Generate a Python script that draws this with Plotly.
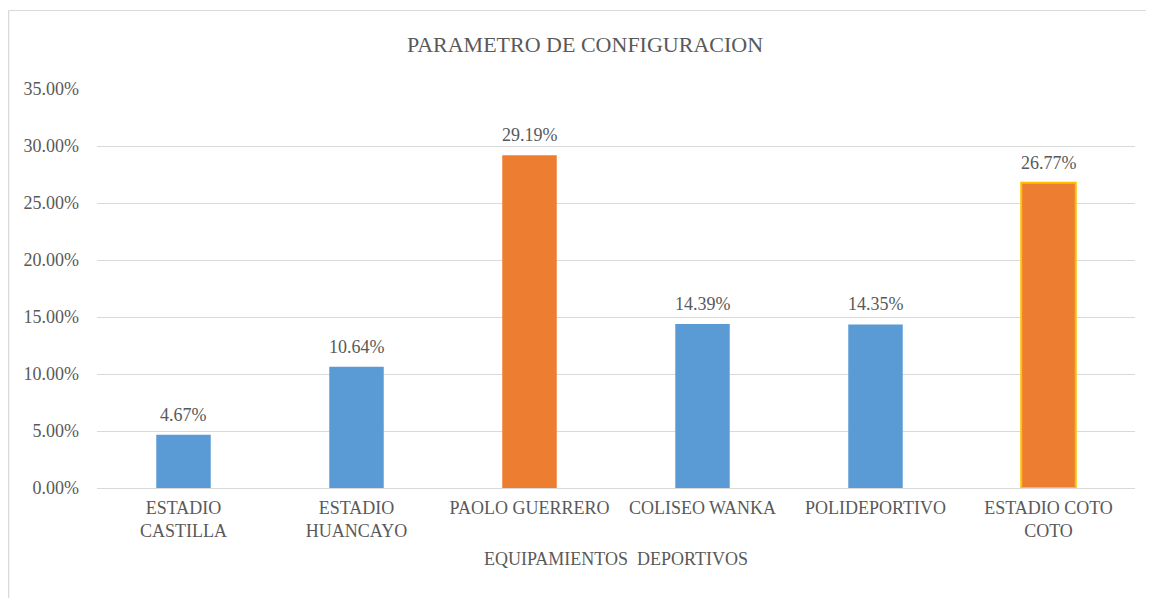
import plotly.graph_objects as go

categories = ["ESTADIO<br>CASTILLA", "ESTADIO<br>HUANCAYO", "PAOLO GUERRERO", "COLISEO WANKA", "POLIDEPORTIVO", "ESTADIO COTO<br>COTO"]
values = [0.0467, 0.1064, 0.2919, 0.1439, 0.1435, 0.2677]
labels = ["4.67%", "10.64%", "29.19%", "14.39%", "14.35%", "26.77%"]
bar_colors = ["#5B9BD5", "#5B9BD5", "#ED7D31", "#5B9BD5", "#5B9BD5", "#ED7D31"]
line_colors = ["#5B9BD5", "#5B9BD5", "#ED7D31", "#5B9BD5", "#5B9BD5", "#FFC000"]
line_widths = [0, 0, 0, 0, 0, 2]

FONT = "Liberation Serif"
TXT = "#595959"

fig = go.Figure(go.Bar(
    x=categories, y=values,
    marker=dict(color=bar_colors, line=dict(color=line_colors, width=line_widths)),
    hoverinfo="x+y",
))

for c, v, t in zip(categories, values, labels):
    fig.add_annotation(x=c, y=v, text=t, showarrow=False, yanchor="bottom",
                       yshift=8, font=dict(family=FONT, size=18, color=TXT))

# page has 8px body margin
W, H = 1146, 590
L, R, T, B = 89, 19, 81, 110
pw, ph = W - L - R, H - T - B

def px_x(p):
    return (p - L) / pw

def px_y(p):
    return (H - B - p) / ph

fig.update_layout(
    width=W, height=H,
    margin=dict(l=L, r=R, t=T, b=B),
    paper_bgcolor="white", plot_bgcolor="white",
    bargap=0.685,
    showlegend=False,
    title=dict(text="PARAMETRO DE CONFIGURACION", x=577 / W, xanchor="center",
               y=1 - 36 / H, yanchor="middle",
               font=dict(family=FONT, size=22, color=TXT)),
    font=dict(family=FONT, color=TXT),
    xaxis=dict(
        title=dict(text="EQUIPAMIENTOS  DEPORTIVOS", font=dict(family=FONT, size=18, color=TXT), standoff=12),
        tickfont=dict(family=FONT, size=18, color=TXT),
        showline=True, linecolor="#D9D9D9", linewidth=1,
        showgrid=False, ticks="", ticklabelstandoff=3,
    ),
    yaxis=dict(
        range=[0, 0.35], dtick=0.05, tickformat=".2%",
        tickfont=dict(family=FONT, size=18, color=TXT),
        showgrid=True, gridcolor="#D9D9D9", gridwidth=1,
        zeroline=False, showline=False, ticks="",
        ticklabelstandoff=17,
    ),
    shapes=[
        dict(type="line", xref="paper", yref="paper", x0=px_x(0.5), x1=px_x(0.5), y0=px_y(2.5), y1=px_y(600),
             line=dict(color="#D9D9D9", width=1.5)),
        dict(type="line", xref="paper", yref="paper", x0=px_x(0.5), x1=px_x(1150), y0=px_y(2.5), y1=px_y(2.5),
             line=dict(color="#D9D9D9", width=1)),
    ],
)

fig.write_html("out.html")
